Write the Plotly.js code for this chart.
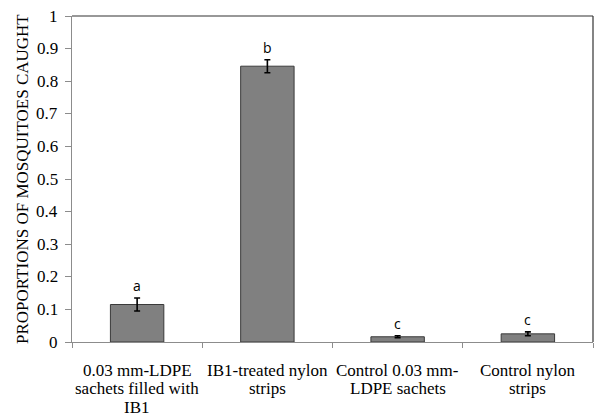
<!DOCTYPE html>
<html>
<head>
<meta charset="utf-8">
<script src="https://cdn.plot.ly/plotly-3.0.1.min.js"></script>
<style>html,body{margin:0;padding:0;background:#fff;}#chart{width:600px;height:418px;}</style>
</head>
<body>
<div id="chart"></div>
<script>
const categories = ["LDPE sachets + IB1", "IB1 nylon strips", "Control LDPE sachets", "Control nylon strips"];
const categoryLabels = [
  ["0.03 mm-LDPE", "sachets filled with", "IB1"],
  ["IB1-treated nylon", "strips"],
  ["Control 0.03 mm-", "LDPE sachets"],
  ["Control nylon", "strips"]
];
const proportions = [0.115, 0.846, 0.016, 0.025];
const errors = [0.020, 0.020, 0.003, 0.006];
const letters = ["a", "b", "c", "c"];
const yTickVals = [0, 0.1, 0.2, 0.3, 0.4, 0.5, 0.6, 0.7, 0.8, 0.9, 1];
const yTickText = ["0", "0.1", "0.2", "0.3", "0.4", "0.5", "0.6", "0.7", "0.8", "0.9", "1"];
const yTitle = "PROPORTIONS OF MOSQUITOES CAUGHT";

const SERIF = "Liberation Serif, Times New Roman, serif";
const serifFont = {family: SERIF, size: 17, color: "#000"};

const trace = {
  type: "bar",
  x: categories,
  y: proportions,
  width: 0.41,
  marker: {color: "#808080", line: {color: "#3a3a3a", width: 1}},
  error_y: {type: "data", array: errors, visible: true, color: "#000", thickness: 1.6, width: 3},
  hoverinfo: "none"
};

const annotations = [];
categories.forEach((c, i) => {
  annotations.push({
    x: c, y: proportions[i] + errors[i], xref: "x", yref: "y",
    text: letters[i], showarrow: false, yanchor: "bottom", yshift: 2, borderpad: 0,
    font: {family: "Open Sans", size: 14, color: "#000"}
  });
  categoryLabels[i].forEach((line, k) => {
    annotations.push({
      x: c, y: 0, xref: "x", yref: "paper",
      text: line, showarrow: false, xanchor: "center", yanchor: "middle",
      yshift: -(28 + k * 18.5), borderpad: 0, font: serifFont
    });
  });
});
yTickVals.forEach((v, i) => {
  annotations.push({
    x: 0, y: v, xref: "paper", yref: "y",
    text: yTickText[i], showarrow: false, xanchor: "right", yanchor: "middle",
    xshift: -13, borderpad: 0, font: serifFont
  });
});
annotations.push({
  x: 0, y: 0.5, xref: "paper", yref: "paper",
  text: yTitle, textangle: -90, showarrow: false, xanchor: "center", yanchor: "middle",
  xshift: -50, borderpad: 0, font: serifFont
});

const layout = {
  width: 600, height: 418,
  margin: {l: 72, r: 7, t: 16, b: 76},
  paper_bgcolor: "#fff", plot_bgcolor: "#fff",
  showlegend: false,
  font: {family: SERIF, size: 17, color: "#000"},
  xaxis: {
    type: "category", showticklabels: false,
    showline: true, linecolor: "#8c8c8c", linewidth: 1,
    ticks: "outside", tickson: "boundaries", ticklen: 5, tickcolor: "#8c8c8c",
    showgrid: false, zeroline: false
  },
  yaxis: {
    range: [0, 1], tickmode: "array", tickvals: yTickVals, showticklabels: false,
    showline: true, linecolor: "#8c8c8c", linewidth: 1,
    ticks: "outside", ticklen: 6, tickcolor: "#8c8c8c",
    showgrid: false, zeroline: false
  },
  annotations: annotations,
  shapes: [
    {type: "line", xref: "paper", yref: "paper", x0: 0, x1: 1, y0: 1, y1: 1, line: {color: "#333", width: 1.2}},
    {type: "line", xref: "paper", yref: "paper", x0: 1, x1: 1, y0: 0, y1: 1, line: {color: "#333", width: 1.2}}
  ]
};

Plotly.newPlot("chart", [trace], layout, {displayModeBar: false, staticPlot: true});
</script>
</body>
</html>
